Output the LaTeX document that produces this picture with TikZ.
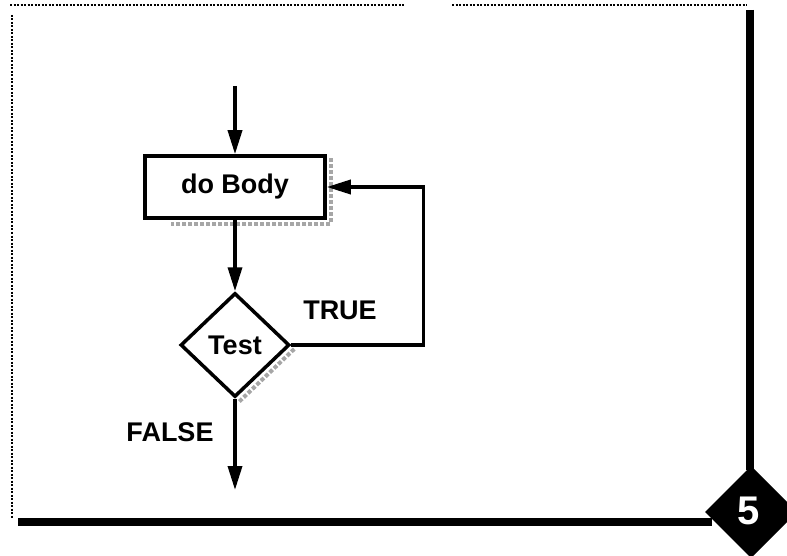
\documentclass[tikz,border=0pt]{standalone}
\usepackage{fontspec}
\setmainfont{Liberation Sans}
\usetikzlibrary{shapes.geometric,arrows.meta,calc,backgrounds}
\begin{document}
\begin{tikzpicture}[x=1pt,y=-1pt,
  flow/.style={line width=3.5pt,-{Triangle[length=24pt,width=14pt]}},
  lbl/.style={font=\fontsize{27}{30}\selectfont\bfseries},
  stepbox/.style={draw,line width=3.5pt,fill=white,minimum width=180pt,minimum height=62pt,inner sep=0pt,lbl},
  decision/.style={diamond,draw,line width=3.5pt,fill=white,minimum width=109pt,minimum height=104pt,inner sep=0pt,lbl},
  thinrule/.style={line width=2.5pt,dash pattern=on 2pt off 1.5pt},
  thickrule/.style={line width=7.5pt},
  shade/.style={gray!70,line width=4pt,dotted}
]
\useasboundingbox (0,0) rectangle (787,556);

% slide frame: dotted top and left, heavy right and bottom
\draw[thinrule] (10,5) -- (405,5);
\draw[thinrule] (452,5) -- (747,5);
\draw[thinrule] (12,15) -- (12,518);
\draw[thickrule] (750,10) -- (750,470);
\draw[thickrule] (18,522) -- (712,522);

% page number badge
\fill (751,466) -- (797,512) -- (751,558) -- (705,512) -- cycle;
\node[white,font=\fontsize{40}{44}\selectfont\bfseries] (pagenum) at (749,511) {5};

% flowchart of the do-while loop
\coordinate (entry) at (235,86);
\node[stepbox] (body) at (235,187) {do Body};
\node[decision] (test) at (235,345) {Test};
\coordinate (exit) at (235,490);

\begin{scope}[on background layer]
  \draw[shade] ($(body.north east)+(4,4)$) -- ($(body.south east)+(4,4)$) -- ($(body.south west)+(28,4)$);
  \draw[shade] ($(test.east)+(3,4)$) -- ($(test.south)+(3,4)$);
\end{scope}

\draw[flow] (entry) -- (body.north);
\draw[flow] (body.south) -- (test.north);
\draw[flow] (test.east) -- ++(132,0) |- (body.east);
\draw[flow] (test.south) -- (exit);

\node[lbl] (truelbl) at (340,310) {TRUE};
\node[lbl] (falselbl) at (170,432) {FALSE};
\end{tikzpicture}
\end{document}
